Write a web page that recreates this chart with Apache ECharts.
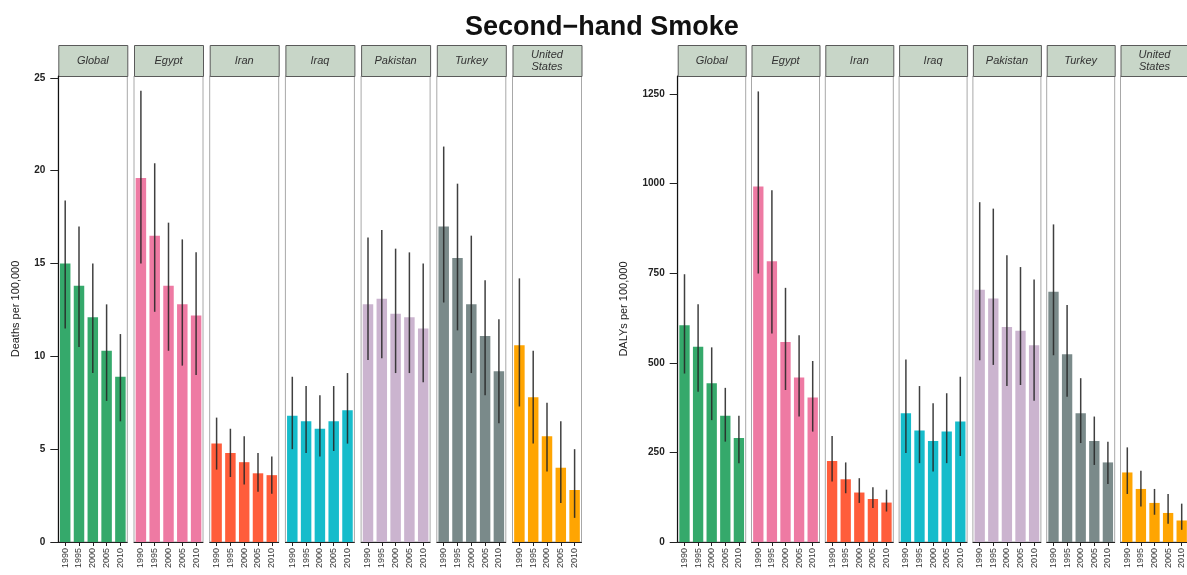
<!DOCTYPE html>
<html>
<head>
<meta charset="utf-8">
<script src="https://cdn.jsdelivr.net/npm/echarts@6/dist/echarts.min.js"></script>
<style>
html,body{margin:0;padding:0;background:#fff;}
#chart{width:1187px;height:575px;}
</style>
</head>
<body>
<div id="chart"></div>
<script>
// ---------------- data ----------------
const chartTitle = 'Second\u2212hand Smoke';
const years = ['1990', '1995', '2000', '2005', '2010'];
const countries = ['Global', 'Egypt', 'Iran', 'Iraq', 'Pakistan', 'Turkey', 'United\nStates'];

// Deaths per 100,000 (rows follow countries, columns follow years)
const deathsMean = [
  [15.0, 13.8, 12.1, 10.3, 8.9],
  [19.6, 16.5, 13.8, 12.8, 12.2],
  [5.3, 4.8, 4.3, 3.7, 3.6],
  [6.8, 6.5, 6.1, 6.5, 7.1],
  [12.8, 13.1, 12.3, 12.1, 11.5],
  [17.0, 15.3, 12.8, 11.1, 9.2],
  [10.6, 7.8, 5.7, 4.0, 2.8]
];
const deathsLow = [
  [11.5, 10.5, 9.1, 7.6, 6.5],
  [15.0, 12.4, 10.3, 9.5, 9.0],
  [3.9, 3.5, 3.1, 2.7, 2.6],
  [5.0, 4.8, 4.6, 4.9, 5.3],
  [9.8, 9.9, 9.1, 9.1, 8.6],
  [12.9, 11.4, 9.1, 7.9, 6.4],
  [7.3, 5.3, 3.8, 2.1, 1.3]
];
const deathsHigh = [
  [18.4, 17.0, 15.0, 12.8, 11.2],
  [24.3, 20.4, 17.2, 16.3, 15.6],
  [6.7, 6.1, 5.7, 4.8, 4.6],
  [8.9, 8.4, 7.9, 8.4, 9.1],
  [16.4, 16.8, 15.8, 15.6, 15.0],
  [21.3, 19.3, 16.5, 14.1, 12.0],
  [14.2, 10.3, 7.5, 6.5, 5.0]
];

// DALYs per 100,000
const dalysMean = [
  [605, 545, 443, 352, 290],
  [992, 783, 558, 459, 403],
  [226, 175, 138, 120, 110],
  [359, 311, 282, 308, 336],
  [704, 679, 600, 589, 549],
  [698, 524, 359, 282, 222],
  [194, 148, 109, 81, 60]
];
const dalysLow = [
  [470, 419, 340, 280, 220],
  [749, 582, 424, 350, 308],
  [169, 136, 109, 95, 85],
  [248, 220, 197, 220, 240],
  [507, 494, 435, 438, 394],
  [521, 405, 276, 215, 162],
  [134, 99, 76, 51, 34]
];
const dalysHigh = [
  [747, 663, 543, 430, 352],
  [1257, 981, 709, 577, 505],
  [296, 222, 178, 153, 146],
  [509, 435, 387, 415, 461],
  [948, 930, 800, 767, 732],
  [886, 661, 457, 350, 280],
  [264, 199, 148, 134, 107]
];

const deathsTicks = [0, 5, 10, 15, 20, 25];
const dalysTicks = [0, 250, 500, 750, 1000, 1250];
const yNames = ['Deaths per 100,000', 'DALYs per 100,000'];

// ---------------- styles / layout ----------------
const colors = ['#35a96b', '#ee7aa3', '#ff5d3b', '#16bccb', '#cbb4cf', '#7a8a8a', '#ffa502'];
const FONT = '"Liberation Sans", Arial, Helvetica, sans-serif';
const sides = [
  { x0: 58.3, step: 75.7, w: 69, max: 25.1, ticks: deathsTicks, mean: deathsMean, low: deathsLow, high: deathsHigh, nameGap: 37 },
  { x0: 677.7, step: 73.8, w: 68, max: 1300, ticks: dalysTicks, mean: dalysMean, low: dalysLow, high: dalysHigh, nameGap: 48 }
];
const plotTop = 76, plotBottomY = 542, stripTop = 45;

const grids = [], xAxes = [], yAxes = [], series = [], graphics = [];

sides.forEach((sd, s) => {
  countries.forEach((cn, c) => {
    const g = s * 7 + c;
    const left = sd.x0 + c * sd.step;
    grids.push({
      left: left, top: plotTop, width: sd.w, height: plotBottomY - plotTop,
      show: true, borderColor: '#a8a8a8', borderWidth: 1,
      containLabel: false, outerBoundsMode: 'none'
    });
    xAxes.push({
      type: 'category', gridIndex: g, data: years,
      axisLine: { show: true, lineStyle: { color: '#222', width: 1 } },
      axisTick: { show: true, alignWithLabel: true, length: 4, lineStyle: { color: '#222' } },
      axisLabel: { rotate: 90, fontSize: 9, margin: 6, color: '#333', fontFamily: FONT }
    });
    const first = c === 0;
    yAxes.push({
      type: 'value', gridIndex: g, min: 0, max: sd.max,
      show: first,
      name: first ? yNames[s] : '',
      nameLocation: 'middle', nameRotate: 90, nameGap: sd.nameGap,
      nameTextStyle: { fontSize: 11, color: '#222', fontFamily: FONT },
      axisLine: { show: first, lineStyle: { color: '#111', width: 1.2 } },
      axisTick: { show: first, length: 8, lineStyle: { color: '#222' }, customValues: sd.ticks },
      axisLabel: {
        show: first, fontSize: 10, fontWeight: 'bold', color: '#222', margin: 13,
        fontFamily: FONT, customValues: sd.ticks,
        formatter: function (v) { return String(v); }
      },
      splitLine: { show: false }
    });
    series.push({
      type: 'bar', xAxisIndex: g, yAxisIndex: g,
      data: sd.mean[c], barWidth: '76%',
      itemStyle: { color: colors[c] },
      silent: true
    });
    series.push({
      type: 'custom', xAxisIndex: g, yAxisIndex: g,
      data: years.map((y, i) => [i, sd.low[c][i], sd.high[c][i]]),
      encode: { x: 0, y: [1, 2] },
      renderItem: function (params, api) {
        const p1 = api.coord([api.value(0), api.value(1)]);
        const p2 = api.coord([api.value(0), api.value(2)]);
        return {
          type: 'line',
          shape: { x1: p1[0], y1: p1[1], x2: p2[0], y2: p2[1] },
          style: { stroke: '#262626', lineWidth: 1.5, opacity: 0.88 }
        };
      },
      silent: true, z: 5
    });
    // strip label
    graphics.push({
      type: 'rect', left: left, top: stripTop,
      shape: { x: 0, y: 0, width: sd.w, height: plotTop - stripTop },
      style: { fill: '#c8d6c8', stroke: '#5a5a5a', lineWidth: 1 }
    });
    graphics.push({
      type: 'text', x: left + sd.w / 2, y: stripTop + (plotTop - stripTop) / 2,
      style: {
        text: cn, fill: '#333', fontSize: 11, fontStyle: 'italic', fontFamily: FONT,
        align: 'center', verticalAlign: 'middle', lineHeight: 12
      }
    });
  });
});

const chart = echarts.init(document.getElementById('chart'), null, { renderer: 'canvas' });
chart.setOption({
  backgroundColor: '#ffffff',
  animation: false,
  title: {
    text: chartTitle, left: 460, top: 9,
    textStyle: { fontSize: 27, fontWeight: 'bold', color: '#111', fontFamily: FONT }
  },
  grid: grids,
  xAxis: xAxes,
  yAxis: yAxes,
  series: series,
  graphic: graphics
});
</script>
</body>
</html>
